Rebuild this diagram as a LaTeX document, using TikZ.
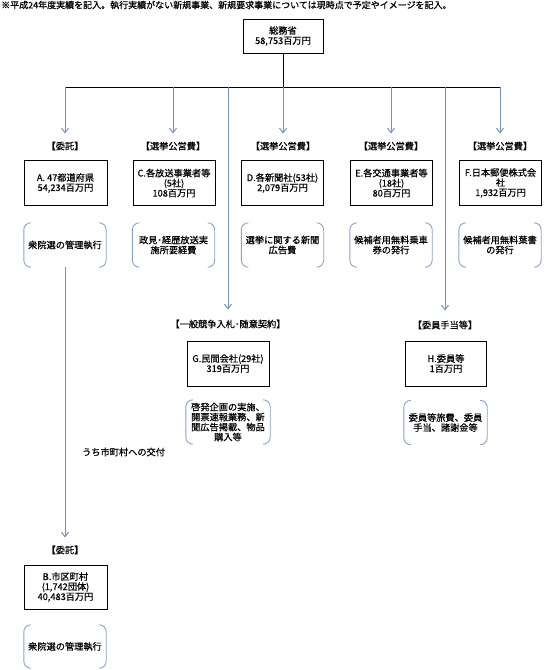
\documentclass[tikz,border=0pt]{standalone}
\usepackage{fontspec}
\setmainfont{Noto Sans CJK JP}[FakeBold=0.6]
\usetikzlibrary{arrows.meta}
\definecolor{connc}{RGB}{115,148,192}
\definecolor{brkc}{RGB}{135,163,203}
\newcommand\drawbrackets[1]{%
  \draw[brkline] ([xshift=7pt]#1.north west) -- (#1.north west) -- (#1.south west) -- ([xshift=7pt]#1.south west);
  \draw[brkline] ([xshift=-7pt]#1.north east) -- (#1.north east) -- (#1.south east) -- ([xshift=-7pt]#1.south east);}
\begin{document}
\begin{tikzpicture}[x=1pt,y=-1pt,
  every node/.style={font=\fontsize{9.2}{10}\selectfont, align=center, inner sep=0pt},
  box/.style={draw=black, line width=1pt, minimum width=82pt, minimum height=45pt},
  brknode/.style={minimum width=82pt, minimum height=44pt},
  brkline/.style={draw=brkc, line width=0.9pt, rounded corners=7pt},
  arr/.style={draw=connc, line width=1pt, -{Straight Barb[length=4.5pt,width=7pt]}, shorten >=8pt},
  busline/.style={draw=black, line width=0.9pt}]
\useasboundingbox (0,0) rectangle (550,670);

\node[anchor=west, font=\fontsize{9}{10}\selectfont] (note) at (1,5) {※平成24年度実績を記入。執行実績がない新規事業、新規要求事業については現時点で予定やイメージを記入。};

\node[box, minimum width=80pt, minimum height=34pt] (root) at (283,36) {総務省\\58,753百万円};

\coordinate (busA) at (65,87);
\coordinate (busC) at (173,87);
\coordinate (busG) at (228,87);
\coordinate (busD) at (283,87);
\coordinate (busE) at (391,87);
\coordinate (busH) at (445,87);
\coordinate (busF) at (500,87);
\draw[busline] (root.south) -- (busD);
\draw[busline] (busA) -- (busF);

% labels
\node (lA) at (65,146) {【委託】};
\node (lC) at (173,146) {【選挙公営費】};
\node (lD) at (283,146) {【選挙公営費】};
\node (lE) at (391,146) {【選挙公営費】};
\node (lF) at (500,146) {【選挙公営費】};
\node (lG) at (228,324) {【一般競争入札･随意契約】};
\node (lH) at (445,325) {【委員手当等】};
\node (lB) at (65,550) {【委託】};

% boxes
\node[box, minimum width=83pt] (bA) at (65.5,183) {A. 47都道府県\\54,234百万円};
\node[box] (bC) at (174,183) {C.各放送事業者等\\(5社)\\108百万円};
\node[box] (bD) at (282.5,183) {D.各新聞社(53社)\\2,079百万円};
\node[box] (bE) at (391.5,183) {E.各交通事業者等\\(18社)\\80百万円};
\node[box] (bF) at (500.5,183) {F.日本郵便株式会\\社\\1,932百万円};
\node[box] (bG) at (228,363.5) {G.民間会社(29社)\\319百万円};
\node[box, minimum width=81pt] (bH) at (446,363.5) {H.委員等\\1百万円};
\node[box, minimum width=83pt, minimum height=44pt] (bB) at (65.5,587) {B.市区町村\\(1,742団体)\\40,483百万円};

% bracket notes
\node[brknode] (kA) at (65,245) {衆院選の管理執行};
\node[brknode] (kC) at (173.5,245) {政見･経歴放送実\\施所要経費};
\node[brknode] (kD) at (282.5,245) {選挙に関する新聞\\広告費};
\node[brknode] (kE) at (391,245) {候補者用無料乗車\\券の発行};
\node[brknode] (kF) at (500,245) {候補者用無料葉書\\の発行};
\node[brknode, minimum width=84pt] (kG) at (228,422) {啓発企画の実施、\\開票速報業務、新\\聞広告掲載、物品\\購入等};
\node[brknode, minimum width=83pt] (kH) at (445.5,422.5) {委員等旅費、委員\\手当、諸謝金等};
\node[brknode, minimum height=43pt] (kB) at (65,646.5) {衆院選の管理執行};
\drawbrackets{kA}
\drawbrackets{kC}
\drawbrackets{kD}
\drawbrackets{kE}
\drawbrackets{kF}
\drawbrackets{kG}
\drawbrackets{kH}
\drawbrackets{kB}

% connectors
\draw[arr] (busA) -- (lA);
\draw[arr] (busC) -- (lC);
\draw[arr] (busD) -- (lD);
\draw[arr] (busE) -- (lE);
\draw[arr] (busF) -- (lF);
\draw[arr, shorten >=10pt] (busG) -- (lG);
\draw[arr, shorten >=10pt] (busH) -- (lH);
\draw[arr] (kA.south) -- (lB);

\node[anchor=west] (tB) at (82,452) {うち市町村への交付};
\end{tikzpicture}
\end{document}
